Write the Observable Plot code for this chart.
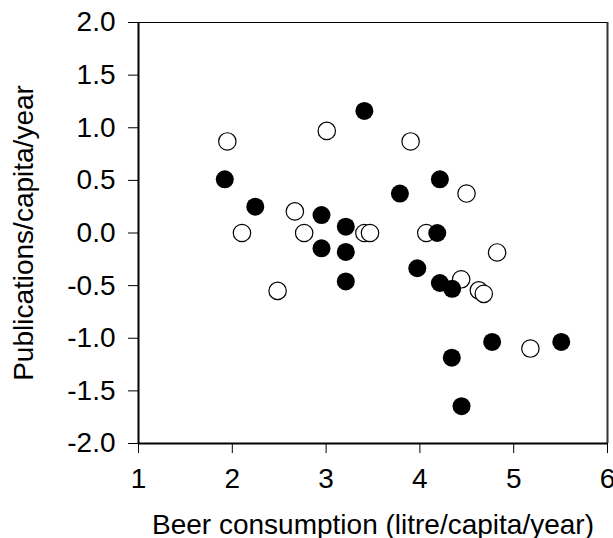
<!DOCTYPE html>
<html>
<head>
<meta charset="utf-8">
<script src="https://cdn.jsdelivr.net/npm/d3@7"></script>
<script src="https://cdn.jsdelivr.net/npm/@observablehq/plot@0.6"></script>
<style>
  html, body { margin: 0; padding: 0; background: #fff; }
  #chart svg { display: block; }
</style>
</head>
<body>
<div id="chart"></div>
<script>
// Filled (black) circles
const filledX = [1.92, 2.245, 3.408, 2.951, 3.21, 2.951, 3.21, 3.21, 3.787, 4.213, 4.185, 3.972, 4.213, 4.344, 4.34, 4.77, 5.507, 4.444];
const filledY = [0.51, 0.25, 1.16, 0.17, 0.06, -0.145, -0.18, -0.46, 0.375, 0.51, 0.0, -0.335, -0.475, -0.53, -1.185, -1.035, -1.035, -1.645];
// Open (white) circles
const openX = [1.947, 2.103, 3.007, 2.667, 2.766, 2.483, 3.408, 3.468, 3.901, 4.068, 4.497, 4.823, 4.44, 4.628, 4.681, 5.178];
const openY = [0.87, 0.0, 0.97, 0.205, 0.0, -0.55, 0.0, 0.0, 0.87, 0.0, 0.375, -0.185, -0.44, -0.545, -0.578, -1.098];

const xTicks = [1, 2, 3, 4, 5, 6];
const yTicks = [-2.0, -1.5, -1.0, -0.5, 0.0, 0.5, 1.0, 1.5, 2.0];
const xDomain = [1, 6];
const yDomain = [-2, 2];
const xLabel = "Beer consumption (litre/capita/year)";
const yLabel = "Publications/capita/year";

const filled = filledX.map((x, i) => ({x, y: filledY[i]}));
const open = openX.map((x, i) => ({x, y: openY[i]}));

const chart = Plot.plot({
  width: 613,
  height: 538,
  marginLeft: 138,
  marginRight: 6,
  marginTop: 22,
  marginBottom: 95,
  style: {fontFamily: "'Liberation Sans', Arial, sans-serif", fontSize: "28px", color: "#000", background: "#fff"},
  x: {domain: xDomain},
  y: {domain: yDomain},
  marks: [
    Plot.axisX({ticks: xTicks, tickSize: 10, tickPadding: 15, tickFormat: d => String(d), fontSize: 28,
      label: xLabel, labelAnchor: "center", labelOffset: 90, labelArrow: "none"}),
    Plot.axisY({ticks: yTicks, tickSize: 10, tickPadding: 13, tickFormat: d => d.toFixed(1), fontSize: 28,
      label: yLabel, labelAnchor: "center", labelOffset: 125, labelArrow: "none"}),
    Plot.ruleX([xDomain[0]], {stroke: "#000", strokeWidth: 2}),
    Plot.ruleX([xDomain[1]], {stroke: "#333", strokeWidth: 2}),
    Plot.ruleY([yDomain[0]], {stroke: "#000", strokeWidth: 2}),
    Plot.ruleY([yDomain[1]], {stroke: "#000", strokeWidth: 1}),
    Plot.dot(open, {x: "x", y: "y", r: 8.7, fill: "#fff", stroke: "#000", strokeWidth: 1.2}),
    Plot.dot(filled, {x: "x", y: "y", r: 9, fill: "#000", stroke: "none"})
  ]
});
document.getElementById("chart").appendChild(chart);
</script>
</body>
</html>
